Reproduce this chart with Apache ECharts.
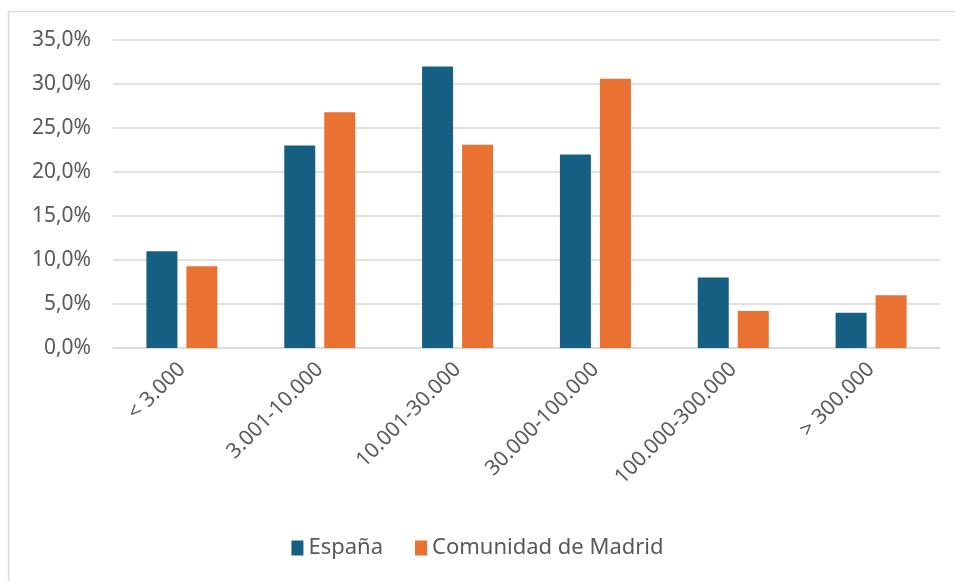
<!DOCTYPE html>
<html>
<head>
<meta charset="utf-8">
<script src="https://cdn.jsdelivr.net/npm/echarts@6/dist/echarts.min.js"></script>
<style>
  html, body { margin: 0; padding: 0; background: #fff; }
  #chart { width: 955px; height: 581px; }
</style>
</head>
<body>
<div id="chart"></div>
<script>
const categories = ['< 3.000', '3.001-10.000', '10.001-30.000', '30.000-100.000', '100.000-300.000', '> 300.000']
const espana = [11.0, 23.0, 32.0, 22.0, 8.0, 4.0]
const madrid = [9.3, 26.8, 23.1, 30.6, 4.2, 6.0]

const textColor = '#595959'
const fontFamily = '"Noto Sans", Inter, sans-serif'

const chart = echarts.init(document.getElementById('chart'))

chart.setOption({
  backgroundColor: '#fff',
  textStyle: { fontFamily },
  animation: false,
  graphic: [
    {
      type: 'rect',
      shape: { x: 8.5, y: 11.5, width: 1000, height: 700 },
      style: { fill: 'none', stroke: '#d9d9d9', lineWidth: 1.5 },
      silent: true,
    },
  ],
  grid: { left: 113, right: 15, top: 40, bottom: 233 },
  legend: {
    bottom: 17,
    left: 'center',
    itemWidth: 12,
    itemHeight: 15,
    itemGap: 32,
    icon: 'rect',
    textStyle: { color: textColor, fontSize: 22, fontFamily },
  },
  xAxis: {
    type: 'category',
    data: categories,
    axisLine: { lineStyle: { color: '#d9d9d9', width: 1.5 } },
    axisTick: { show: false },
    axisLabel: {
      rotate: 45,
      color: textColor,
      fontSize: 21,
      margin: 18,
      interval: 0,
    },
  },
  yAxis: {
    type: 'value',
    min: 0,
    max: 35,
    interval: 5,
    axisLine: { show: false },
    axisTick: { show: false },
    splitLine: { lineStyle: { color: '#d9d9d9', width: 1.5 } },
    axisLabel: {
      color: textColor,
      fontSize: 21,
      margin: 22,
      formatter: (v) => v.toFixed(1).replace('.', ',') + '%',
    },
  },
  series: [
    {
      name: 'España',
      type: 'bar',
      data: espana,
      barWidth: 31,
      barGap: '29%',
      itemStyle: { color: '#156082' },
    },
    {
      name: 'Comunidad de Madrid',
      type: 'bar',
      data: madrid,
      barWidth: 31,
      itemStyle: { color: '#e97132' },
    },
  ],
})
</script>
</body>
</html>
